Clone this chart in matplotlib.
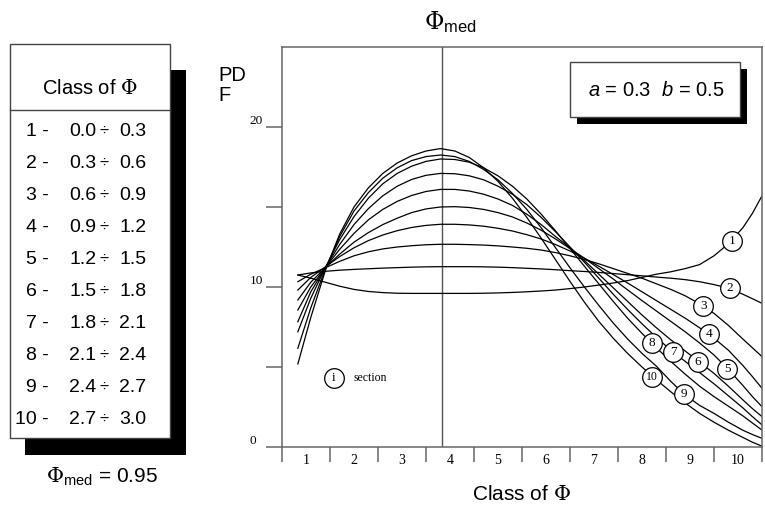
import numpy as np
import matplotlib
matplotlib.use("Agg")
import matplotlib.pyplot as plt
from matplotlib.patches import Rectangle

plt.rcParams['font.family'] = ['Liberation Sans', 'DejaVu Sans']
plt.rcParams['mathtext.fontset'] = 'custom'
plt.rcParams['mathtext.rm'] = 'DejaVu Serif'
plt.rcParams['mathtext.sf'] = 'Liberation Sans'
plt.rcParams['mathtext.it'] = 'Liberation Sans:italic'

# class ranges of Phi
class_lo = [0.0, 0.3, 0.6, 0.9, 1.2, 1.5, 1.8, 2.1, 2.4, 2.7]
class_hi = [0.3, 0.6, 0.9, 1.2, 1.5, 1.8, 2.1, 2.4, 2.7, 3.0]
class_names = ['1', '2', '3', '4', '5', '6', '7', '8', '9', '10']
phi_med_class = 3.33

# PDF curves, one per section
xs = [0.33, 0.6, 0.9, 1.2, 1.5, 1.8, 2.1, 2.4, 2.7, 3.0, 3.3, 3.6, 3.9, 4.2, 4.5, 4.8, 5.1,
      5.4, 5.7, 6.0, 6.3, 6.6, 6.9, 7.2, 7.5, 7.8, 8.1, 8.4, 8.7, 9.0, 9.3, 9.6, 9.8, 10.0]
pdf1 = [10.75, 10.55, 10.3, 10.05, 9.85, 9.72, 9.65, 9.61, 9.6, 9.6, 9.6, 9.6, 9.6, 9.61, 9.63,
        9.66, 9.7, 9.75, 9.81, 9.9, 10.0, 10.12, 10.25, 10.4, 10.6, 10.8, 10.95, 11.15, 11.4,
        11.95, 12.7, 13.7, 14.6, 15.7]
pdf2 = [10.75, 10.88, 10.98, 11.05, 11.1, 11.14, 11.18, 11.21, 11.24, 11.26, 11.27, 11.27, 11.27,
        11.26, 11.24, 11.21, 11.17, 11.13, 11.08, 11.02, 10.97, 10.91, 10.84, 10.77, 10.7, 10.62,
        10.55, 10.46, 10.33, 10.15, 9.93, 9.55, 9.27, 8.98]
pdf3 = [10.33, 10.8, 11.2, 11.6, 11.95, 12.2, 12.38, 12.5, 12.58, 12.64, 12.67, 12.67, 12.65,
        12.62, 12.57, 12.5, 12.42, 12.31, 12.15, 11.95, 11.72, 11.45, 11.15, 10.85, 10.55, 10.2,
        9.85, 9.45, 8.95, 8.35, 7.6, 6.75, 6.2, 5.65]
pdf4 = [9.81, 10.6, 11.25, 11.9, 12.45, 12.9, 13.25, 13.52, 13.72, 13.85, 13.92, 13.92, 13.88,
        13.8, 13.67, 13.5, 13.27, 13.0, 12.65, 12.25, 11.8, 11.3, 10.78, 10.25, 9.7, 9.15, 8.6,
        8.05, 7.45, 6.8, 6.05, 5.1, 4.4, 3.67]
pdf5 = [9.19, 10.3, 11.2, 12.05, 12.8, 13.4, 13.9, 14.3, 14.65, 14.88, 15.0, 15.02, 14.97, 14.85,
        14.65, 14.38, 14.0, 13.55, 13.0, 12.4, 11.8, 11.15, 10.5, 9.82, 9.15, 8.5, 7.85, 7.2, 6.5,
        5.75, 4.85, 3.85, 3.15, 2.52]
pdf6 = [8.56, 10.0, 11.2, 12.35, 13.35, 14.2, 14.85, 15.35, 15.72, 15.97, 16.1, 16.1, 16.0, 15.8,
        15.5, 15.1, 14.55, 13.9, 13.15, 12.45, 11.65, 10.8, 9.95, 9.1, 8.25, 7.45, 6.7, 6.0, 5.3,
        4.6, 3.8, 2.95, 2.4, 1.9]
pdf7 = [7.83, 9.7, 11.2, 12.65, 13.9, 14.9, 15.7, 16.3, 16.72, 16.98, 17.1, 17.08, 16.95, 16.7,
        16.3, 15.8, 15.15, 14.35, 13.45, 12.5, 11.55, 10.55, 9.55, 8.6, 7.7, 6.85, 6.05, 5.35,
        4.65, 3.95, 3.2, 2.45, 1.9, 1.38]
pdf8 = [7.2, 9.3, 11.2, 12.95, 14.4, 15.55, 16.45, 17.1, 17.55, 17.85, 18.0, 17.97, 17.8, 17.45,
        16.95, 16.3, 15.5, 14.55, 13.5, 12.4, 11.3, 10.2, 9.1, 8.05, 7.1, 6.2, 5.35, 4.55, 3.8,
        3.15, 2.55, 1.95, 1.5, 1.06]
pdf9 = [6.17, 8.7, 11.1, 13.15, 14.75, 15.9, 16.8, 17.45, 17.9, 18.15, 18.25, 18.15, 17.85, 17.35,
        16.7, 15.85, 14.85, 13.7, 12.45, 11.2, 10.0, 8.85, 7.75, 6.75, 5.85, 5.05, 4.1, 3.25, 2.6,
        2.1, 1.55, 1.05, 0.78, 0.54]
pdf10 = [5.19, 8.1, 11.0, 13.3, 15.0, 16.2, 17.1, 17.75, 18.2, 18.5, 18.65, 18.5, 18.1, 17.45,
         16.6, 15.55, 14.35, 13.05, 11.7, 10.35, 9.05, 7.85, 6.8, 5.85, 5.0, 4.2, 3.45, 2.75, 2.1,
         1.55, 1.05, 0.6, 0.3, 0.05]
curves = [pdf1, pdf2, pdf3, pdf4, pdf5, pdf6, pdf7, pdf8, pdf9, pdf10]

# where the circled section numbers sit
label_pos = [(9.37, 12.87), (9.33, 9.92), (8.78, 8.81), (8.9, 7.06), (9.28, 4.85),
             (8.67, 5.33), (8.15, 5.92), (7.7, 6.48), (8.375, 3.29), (7.7, 4.35)]

W, H = 765, 511
fig = plt.figure(figsize=(W / 100, H / 100), dpi=100)
ax = fig.add_axes([282 / W, 64 / H, 480 / W, 400 / H])
ax.set_xlim(0, 10)
ax.set_ylim(0, 25)

axcol = '#666666'
for s in ax.spines.values():
    s.set_color(axcol)
    s.set_linewidth(1.1)

ax.set_xticks(np.arange(0, 11))
ax.set_xticklabels([])
ax.set_xticks(np.arange(10) + 0.5, minor=True)
ax.set_xticklabels(class_names, minor=True, family='Liberation Serif', fontsize=10)
ax.tick_params(axis='x', which='major', direction='out', length=11, width=1.1, color=axcol)
ax.tick_params(axis='x', which='minor', length=0, pad=5)

ax.set_yticks([0, 5, 10, 15, 20])
ax.set_yticklabels(['0', '', '10', '', '20'], family='Liberation Serif', fontsize=9.5)
ax.tick_params(axis='y', direction='out', length=11.5, width=1.1, color=axcol, pad=12)
for lbl in ax.get_yticklabels():
    lbl.set_ha('left')
    lbl.set_va('bottom')

ax.axvline(phi_med_class, color='#555555', lw=1.0)

for ys in curves:
    ax.plot(xs, ys, color='black', lw=0.9)

for name, (lx, ly) in zip(class_names, label_pos):
    ax.scatter([lx], [ly], s=200, facecolor='white', edgecolor='black', lw=0.9, zorder=4)
    ax.text(lx, ly, name, ha='center', va='center', family='Liberation Serif',
            fontsize=9.5 if len(name) == 1 else 8.5, zorder=5)

# "i section" key
ax.scatter([1.08], [4.31], s=200, facecolor='white', edgecolor='black', lw=0.9, zorder=4)
ax.text(1.08, 4.31, 'i', ha='center', va='center', family='Liberation Serif', fontsize=9.5, zorder=5)
ax.text(1.5, 4.31, 'section', ha='left', va='center', family='Liberation Serif', fontsize=8.5)

# overlay in pixel units for the boxes and loose texts
ov = fig.add_axes([0, 0, 1, 1], zorder=3)
ov.set_xlim(0, W)
ov.set_ylim(H, 0)
ov.axis('off')

ov.text(450, 22, r'$\Phi_{\mathsf{med}}$', ha='center', va='center', fontsize=17)
ov.text(218, 66, 'PD\nF', ha='left', va='top', fontsize=14.5, linespacing=1.05)
ov.text(522, 495, r'Class of $\Phi$', ha='center', va='center', fontsize=15)

# parameter box with shadow
ov.add_patch(Rectangle((577, 69), 170, 55, facecolor='black', edgecolor='none'))
ov.add_patch(Rectangle((570, 62), 170, 55, facecolor='white', edgecolor='#444444', lw=1))
ov.text(656, 90, r'$a$ = 0.3  $b$ = 0.5', ha='center', va='center', fontsize=14.5)

# class table with shadow
ov.add_patch(Rectangle((25, 70), 161, 385, facecolor='black', edgecolor='none'))
ov.add_patch(Rectangle((10, 44), 160, 394, facecolor='white', edgecolor='#444444', lw=1))
ov.plot([10, 170], [110.5, 110.5], color='#444444', lw=1)
ov.text(90, 89, r'Class of $\Phi$', ha='center', va='center', fontsize=14.5)
for i, (nm, lo, hi) in enumerate(zip(class_names, class_lo, class_hi)):
    y = 131 + 32 * i
    ov.text(49, y, nm + ' -', ha='right', va='center', fontsize=14)
    ov.text(83, y, f'{lo:.1f}', ha='center', va='center', fontsize=14)
    ov.text(104, y, '\u00f7', ha='center', va='center', fontsize=12)
    ov.text(133, y, f'{hi:.1f}', ha='center', va='center', fontsize=14)

ov.text(102, 477, r'$\Phi_{\mathsf{med}}$ = 0.95', ha='center', va='center', fontsize=15)

fig.savefig('out.png', dpi=100)
